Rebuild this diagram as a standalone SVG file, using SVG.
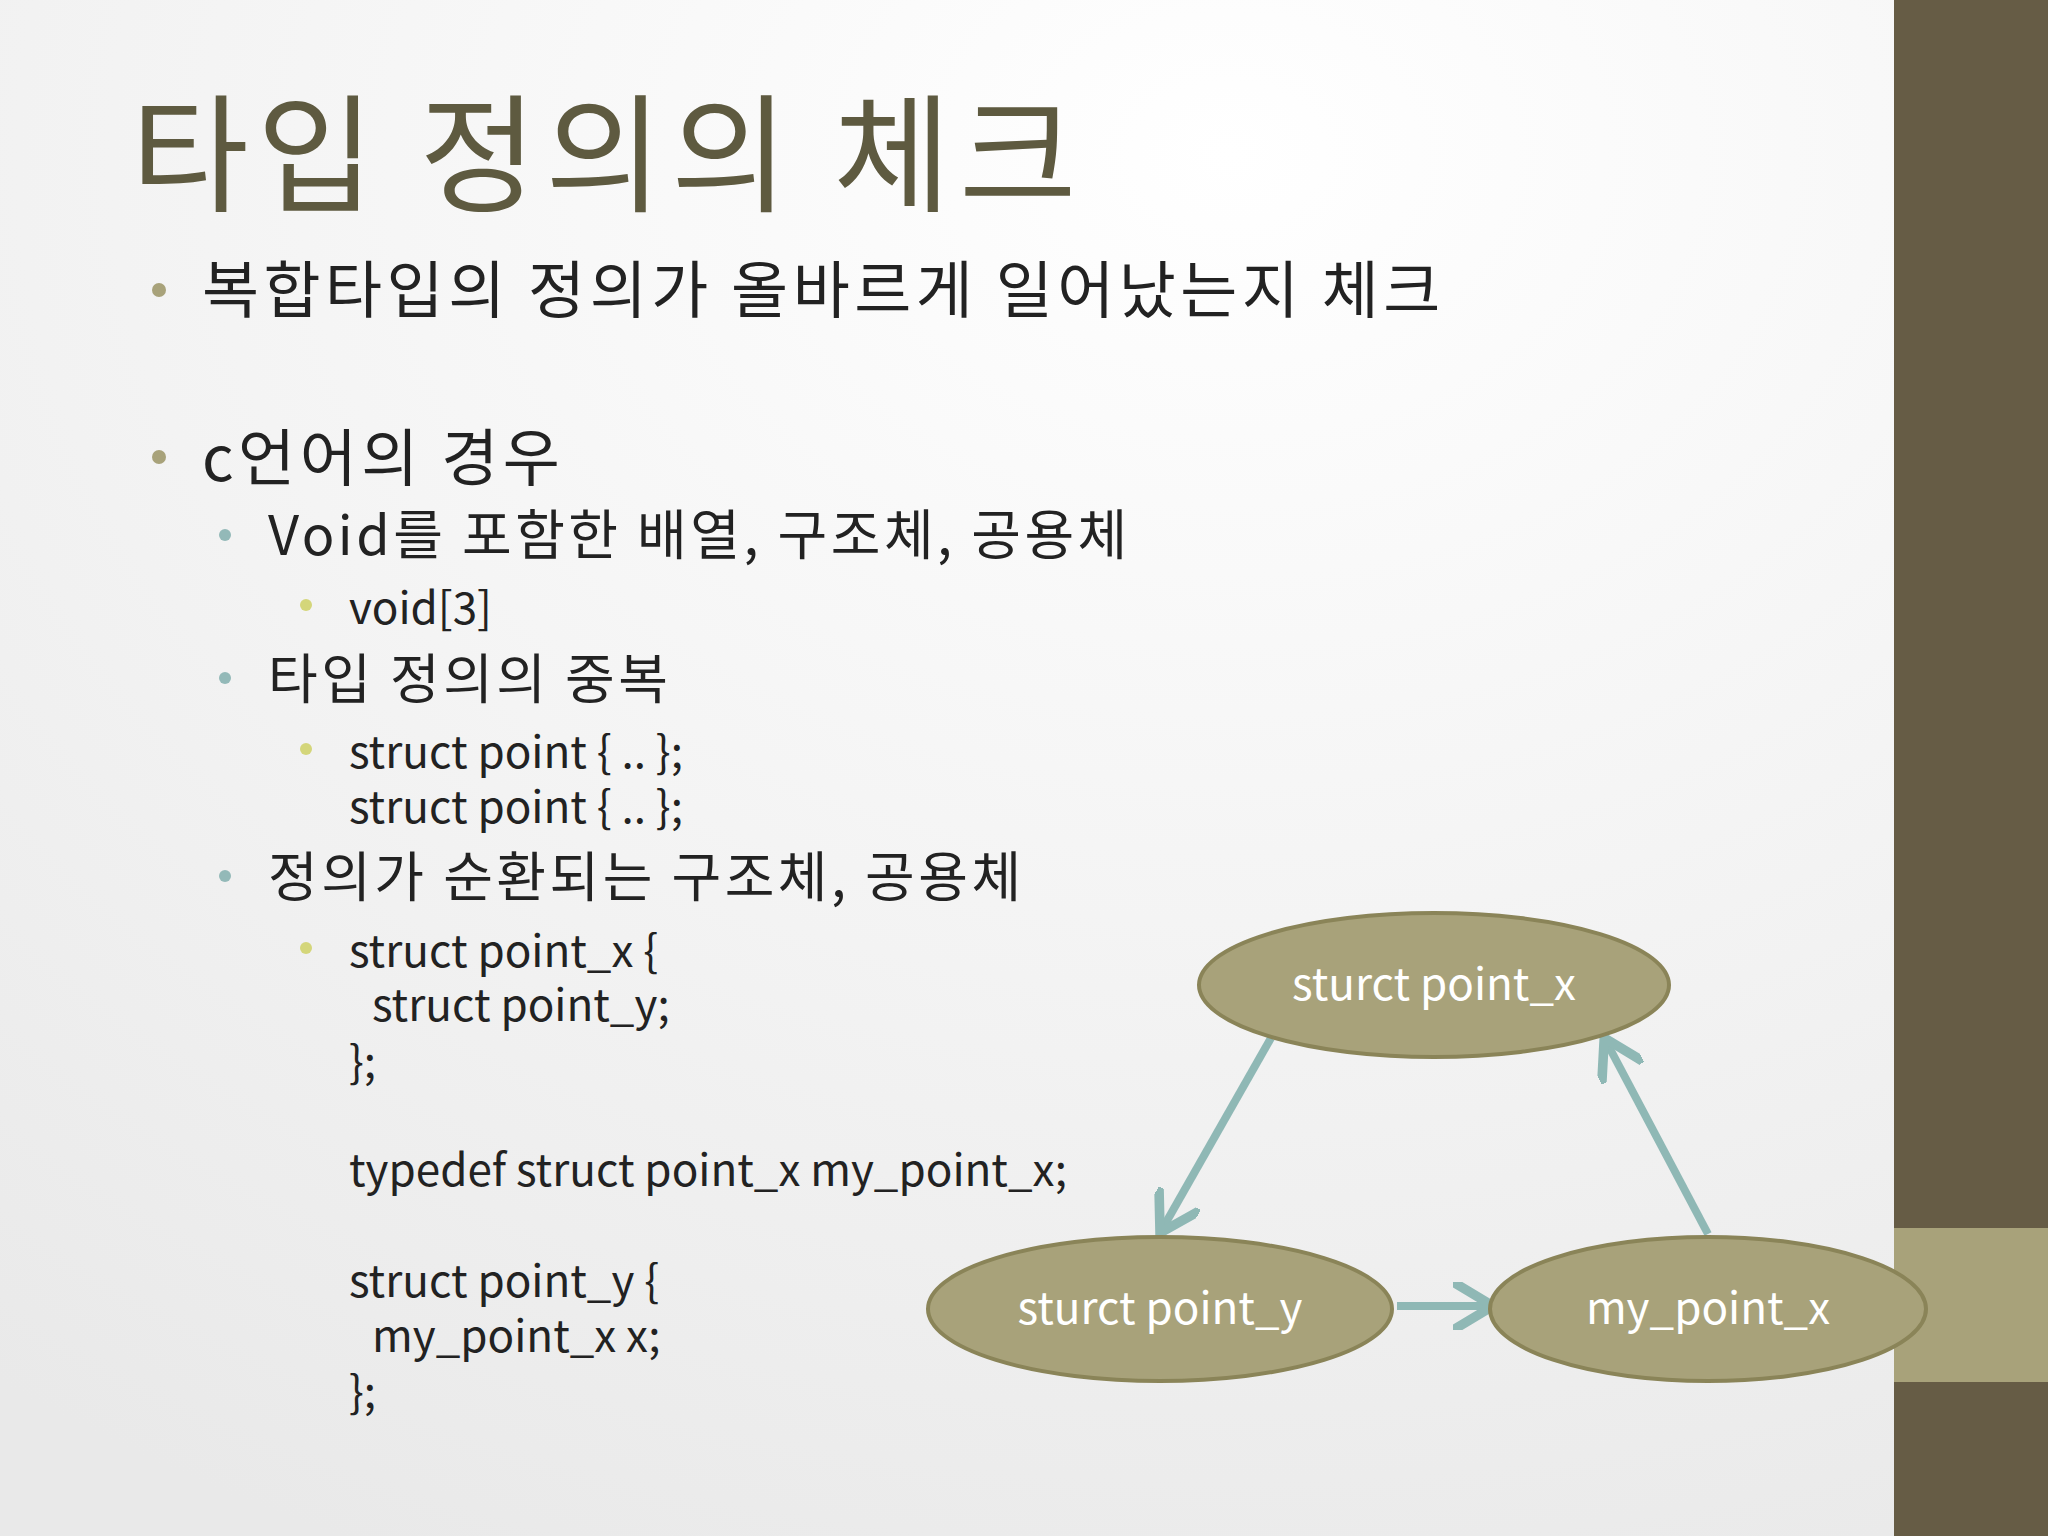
<svg xmlns="http://www.w3.org/2000/svg" width="2048" height="1536" viewBox="0 0 2048 1536">
<defs>
<radialGradient id="bg" cx="0.6" cy="0.1" r="1">
<stop offset="0" stop-color="#ffffff"/><stop offset="1" stop-color="#e9e9e9"/>
</radialGradient>
<marker id="ah" markerWidth="6" markerHeight="6" refX="4" refY="3" orient="auto" markerUnits="strokeWidth">
<path d="M0,0 L5,3 L0,6" fill="none" stroke="#8fb8b5" stroke-width="1.2"/>
</marker>
<style>
.t{font-family:"Noto Sans CJK KR","Noto Sans",sans-serif;fill:#222}
.b1{font-size:62px;letter-spacing:4.5px}.b2{font-size:54px;letter-spacing:3.5px}.b3{font-size:44px}
.d1{fill:#a8a27a}.d2{fill:#93b9b8}.d3{fill:#d4d67a}
.n{fill:#a8a27a;stroke:#8a8458;stroke-width:4}
.nt{font-family:"Noto Sans CJK KR","Noto Sans",sans-serif;font-size:44px;fill:#fff;text-anchor:middle}
.c{stroke:#8fb8b5;stroke-width:8;fill:none;marker-end:url(#ah)}
</style>
</defs>
<rect width="2048" height="1536" fill="url(#bg)"/>
<rect x="1894" y="0" width="154" height="1536" fill="#665c45"/>
<rect x="1894" y="1228" width="154" height="154" fill="#a8a27a"/>
<text x="131" y="202" class="t" font-size="128" letter-spacing="8" style="fill:#5e5a40">타입 정의의 체크</text>
<circle cx="159" cy="290" r="7" class="d1"/>
<text x="202" y="313" class="t b1">복합타입의 정의가 올바르게 일어났는지 체크</text>
<circle cx="159" cy="457" r="7" class="d1"/>
<text x="202" y="481" class="t b1">c언어의 경우</text>
<circle cx="225" cy="535" r="6" class="d2"/>
<text x="268" y="555" class="t b2">Void를 포함한 배열, 구조체, 공용체</text>
<circle cx="306" cy="605" r="6" class="d3"/>
<text x="349" y="624" class="t b3">void[3]</text>
<circle cx="225" cy="678" r="6" class="d2"/>
<text x="268" y="699" class="t b2">타입 정의의 중복</text>
<circle cx="306" cy="749" r="6" class="d3"/>
<text x="349" y="768" class="t b3">struct point { .. };</text>
<text x="349" y="823" class="t b3">struct point { .. };</text>
<circle cx="225" cy="876" r="6" class="d2"/>
<text x="268" y="897" class="t b2">정의가 순환되는 구조체, 공용체</text>
<circle cx="306" cy="948" r="6" class="d3"/>
<text x="349" y="967" class="t b3">struct point_x {</text>
<text x="372" y="1021" class="t b3">struct point_y;</text>
<text x="349" y="1078" class="t b3">};</text>
<text x="349" y="1186" class="t b3">typedef struct point_x my_point_x;</text>
<text x="349" y="1297" class="t b3">struct point_y {</text>
<text x="372" y="1352" class="t b3">my_point_x x;</text>
<text x="349" y="1408" class="t b3">};</text>
<g id="connectors">
<line x1="1271" y1="1038" x2="1164" y2="1226" class="c"/>
<line x1="1397" y1="1306" x2="1485" y2="1306" class="c"/>
<line x1="1708" y1="1234" x2="1608" y2="1045" class="c"/>
</g>
<g id="n_x"><ellipse cx="1434" cy="985" rx="235" ry="72" class="n"/><text x="1434" y="1000" class="nt">sturct point_x</text></g>
<g id="n_y"><ellipse cx="1160" cy="1309" rx="232" ry="72" class="n"/><text x="1160" y="1324" class="nt">sturct point_y</text></g>
<g id="n_my"><ellipse cx="1708" cy="1309" rx="218" ry="72" class="n"/><text x="1708" y="1324" class="nt">my_point_x</text></g>
</svg>
